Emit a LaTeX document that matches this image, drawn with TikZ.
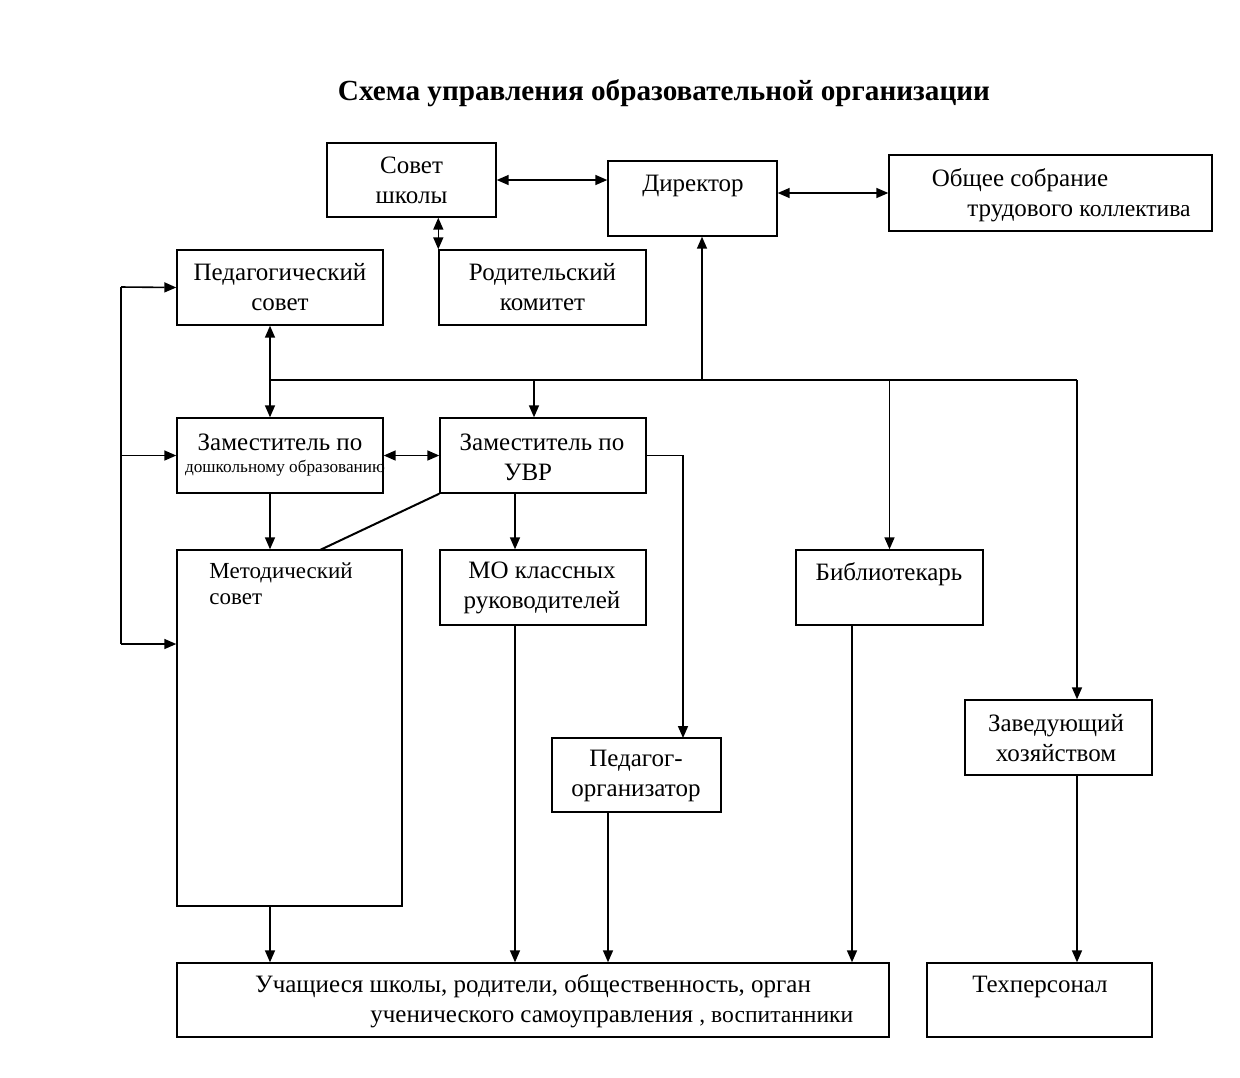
\documentclass[tikz,border=0pt]{standalone}
\usepackage{fontspec}
\setmainfont{Liberation Serif}
\usepackage{tikz}
\usetikzlibrary{arrows.meta}

\begin{document}
\begin{tikzpicture}[x=0.5pt,y=-0.5pt]
\tikzstyle{every node}+=[inner sep=0pt]
\tikzstyle{box}=[draw=black, line width=0.7pt, rectangle]
\tikzstyle{txt}=[font=\fontsize{12.5}{15}\selectfont, align=center]
\tikzstyle{small}=[font=\fontsize{8.6}{10}\selectfont]
\tikzstyle{arr}=[line width=0.8pt, -{Triangle[length=6pt,width=5pt]}]
\tikzstyle{biarr}=[line width=0.8pt, {Triangle[length=6pt,width=5pt]}-{Triangle[length=6pt,width=5pt]}]
\useasboundingbox (0,0) rectangle (1240,1077);

\node[font=\fontsize{14.6}{17}\selectfont\bfseries] (title) at (664,93) {Схема управления образовательной организации};

\node[box, minimum width=84.5pt, minimum height=37pt, txt] (sovet) at (411.5,180) {Совет\\школы};
\node[box, minimum width=84.5pt, minimum height=37.5pt] (dir) at (692.5,198.5) {};
\node[txt] (dirT) at (693,186) {Директор};
\node[box, minimum width=161.5pt, minimum height=38pt] (obsh) at (1050.5,193) {};
\node[txt] (obshA) at (1020,180) {Общее собрание};
\node[txt, anchor=base west] (obshB) at (967,216) {трудового {\fontsize{11.8}{13}\selectfont коллектива}};
\node[box, minimum width=103pt, minimum height=37.5pt] (ped) at (280,287.5) {};
\node[txt] (pedT) at (280,287.5) {Педагогический\\совет};
\node[box, minimum width=103.5pt, minimum height=37.5pt] (rod) at (542.5,287.5) {};
\node[txt] (rodT) at (542.5,287.5) {Родительский\\комитет};
\node[box, minimum width=103pt, minimum height=37.5pt] (zdo) at (280,455.5) {};
\node[txt] (zdoA) at (280,442) {Заместитель по};
\node[small] (zdoB) at (285,468) {дошкольному образованию};
\node[box, minimum width=103pt, minimum height=37.5pt] (zuvr) at (543,455.5) {};
\node[txt] (zuvrA) at (542,442) {Заместитель по};
\node[txt] (zuvrB) at (528,472) {УВР};
\node[box, minimum width=112.5pt, minimum height=178pt] (metod) at (289.5,728) {};
\node[font=\fontsize{11.5}{13}\selectfont, align=left, anchor=north west] (metodT) at (209,562) {Методический\\совет};
\node[box, minimum width=103pt, minimum height=37.5pt] (mo) at (543,587.5) {};
\node[txt] (moT) at (542,588) {МО классных\\руководителей};
\node[box, minimum width=93.5pt, minimum height=37.5pt] (bibl) at (889.5,587.5) {};
\node[txt] (biblT) at (889,574) {Библиотекарь};
\node[box, minimum width=84.5pt, minimum height=37pt] (porg) at (636.5,775) {};
\node[txt] (porgT) at (636,776) {Педагог-\\организатор};
\node[box, minimum width=93.5pt, minimum height=37.5pt] (zav) at (1058.5,737.5) {};
\node[txt] (zavT) at (1056,738) {Заведующий\\хозяйством};
\node[box, minimum width=356pt, minimum height=37pt] (ucha) at (533,1000) {};
\node[txt] (uchaA) at (533,986) {Учащиеся школы, родители, общественность, орган};
\node[txt, anchor=base west] (uchaB) at (370,1022) {ученического самоуправления {\fontsize{11.8}{13}\selectfont, воспитанники}};
\node[box, minimum width=112.5pt, minimum height=37pt] (tech) at (1039.5,1000) {};
\node[txt] (techT) at (1040,987) {Техперсонал};

\coordinate (bL) at (270,380);
\coordinate (bU) at (534,380);
\coordinate (bD) at (702,380);
\coordinate (bR) at (1077,380);
\coordinate (lT) at (121,287);
\coordinate (lB) at (121,644);
\coordinate (mdiag) at (320,550);
\coordinate (cMO) at (515,625);
\coordinate (cPO) at (683,738);
\coordinate (cPU) at (608,812);
\coordinate (cBU) at (852,625);

\draw[biarr] (sovet.east) -- (sovet.east -| dir.west);
\draw[biarr] (obsh.west -| dir.east) -- (obsh.west);
\draw[biarr] (rod.north west |- sovet.south) -- (rod.north west);
\draw[line width=0.8pt] (bL) -- (bR);
\draw[arr] (bD) -- (bD |- dir.south);
\draw[biarr] (bL |- ped.south) -- (bL |- zdo.north);
\draw[arr] (bU) -- (bU |- zuvr.north);
\draw[arr] (bibl.north |- bL) -- (bibl.north);
\draw[arr] (bR) -- (bR |- zav.north);
\draw[line width=0.8pt] (lT) -- (lB);
\draw[arr] (lT) -- (ped.west);
\draw[arr] (lT |- zdo.west) -- (zdo.west);
\draw[arr] (lB) -- (lB -| metod.west);
\draw[biarr] (zdo.east) -- (zuvr.west);
\draw[arr] (bL |- zdo.south) -- (bL |- metod.north);
\draw[line width=1pt] (zuvr.south west) -- (mdiag);
\draw[arr] (cMO |- zuvr.south) -- (cMO |- mo.north);
\draw[arr] (zuvr.east) -| (cPO);
\draw[arr] (bL |- metod.south) -- (bL |- ucha.north);
\draw[arr] (cMO) -- (cMO |- ucha.north);
\draw[arr] (cPU) -- (cPU |- ucha.north);
\draw[arr] (cBU) -- (cBU |- ucha.north);
\draw[arr] (bR |- zav.south) -- (bR |- tech.north);
\end{tikzpicture}
\end{document}
